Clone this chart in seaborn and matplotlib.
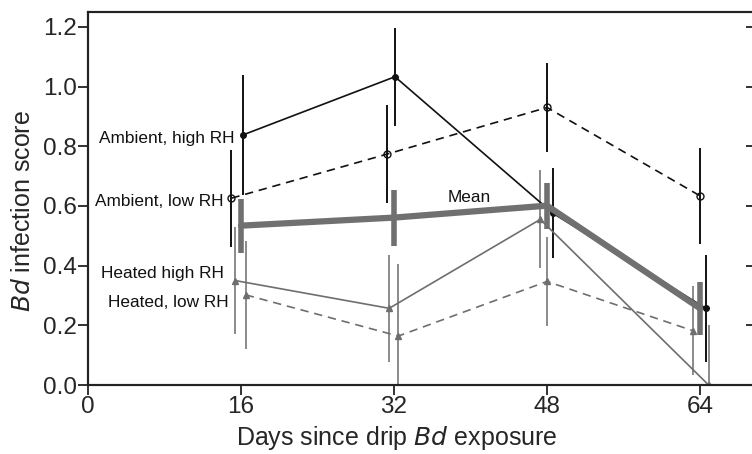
import numpy as np
import pandas as pd
import matplotlib
matplotlib.use("Agg")
import matplotlib.pyplot as plt
import seaborn as sns

# values (days are jittered around 16/32/48/64)
amb_high_day = [16.2, 32.1, 48.6, 64.6]
amb_high = [0.838, 1.033, 0.576, 0.257]
amb_high_err = [0.20, 0.165, 0.15, 0.18]

amb_low_day = [15.0, 31.3, 48.0, 64.0]
amb_low = [0.626, 0.774, 0.930, 0.634]
amb_low_err = [0.162, 0.164, 0.15, 0.16]

heat_high_day = [15.4, 31.5, 47.3, 64.9]
heat_high = [0.350, 0.257, 0.555, 0.0]
heat_high_err = [0.18, 0.18, 0.164, 0.20]

heat_low_day = [16.5, 32.45, 48.0, 63.25]
heat_low = [0.302, 0.164, 0.347, 0.182]
heat_low_err = [0.18, 0.24, 0.15, 0.15]

mean_day = [16, 32, 48, 64]
mean_val = [0.534, 0.561, 0.601, 0.257]
mean_err = [0.09, 0.094, 0.077, 0.088]

xticks = [0, 16, 32, 48, 64]
yticks = [0.0, 0.2, 0.4, 0.6, 0.8, 1.0, 1.2]

sns.set_theme(style="ticks")
plt.rcParams["font.family"] = ["Liberation Sans", "DejaVu Sans"]

fig = plt.figure(figsize=(7.52, 4.54), dpi=100)
ax = fig.add_axes([88 / 752, 69 / 454, 668 / 752, 373 / 454])

black = "#111111"
gray = "#6e6e6e"
lgray = "#8a8a8a"
mgray = "#707070"

series = [
    (amb_high_day, amb_high, amb_high_err, black, black, "-", "o", 4, black),
    (amb_low_day, amb_low, amb_low_err, black, black, (0, (5, 3.5)), "o", 5, "none"),
    (heat_high_day, heat_high, heat_high_err, gray, lgray, "-", "^", 5, gray),
    (heat_low_day, heat_low, heat_low_err, gray, lgray, (0, (5, 3.5)), "^", 5, gray),
]

for day, val, err, lc, ec, ls, mk, ms, fc in series:
    ax.errorbar(day, val, yerr=err, fmt="none", ecolor=ec, elinewidth=1.4,
                capsize=0, zorder=2, clip_on=True)
    df = pd.DataFrame({"day": day, "score": val})
    sns.lineplot(data=df, x="day", y="score", ax=ax, color=lc, linewidth=1.2,
                 linestyle=ls, marker=mk, markersize=ms, markerfacecolor=fc,
                 markeredgecolor=lc, markeredgewidth=1.0, zorder=3)

# mean line
ax.errorbar(mean_day, mean_val, yerr=mean_err, fmt="none", ecolor=mgray,
            elinewidth=4, capsize=0, zorder=4)
sns.lineplot(x=mean_day, y=mean_val, ax=ax, color=mgray, linewidth=4.5, zorder=4)

# series labels
lab_kw = dict(fontsize=12.4, ha="right", va="center", color="#111111")
ax.text(15.3, 0.825, "Ambient, high RH", **lab_kw)
ax.text(14.2, 0.615, "Ambient, low RH", **lab_kw)
ax.text(14.2, 0.372, "Heated high RH", **lab_kw)
ax.text(14.75, 0.277, "Heated, low RH", **lab_kw)
ax.text(39.9, 0.63, "Mean", fontsize=12.4, ha="center", va="center", color="#111111")

ax.set_xlim(0, 668 / 9.5625)
ax.set_ylim(0, 1.25)
ax.set_xticks(xticks)
ax.set_yticks(yticks)
ax.set_xticklabels([str(t) for t in xticks])
ax.set_yticklabels([f"{t:.1f}" for t in yticks])

for lab in ax.get_xticklabels() + ax.get_yticklabels():
    lab.set_fontsize(17.5)

ax.tick_params(axis="both", which="both", direction="out", length=7, width=1.3,
               color="#222222", pad=1)

# inward ticks on the right edge (spine falls just outside the picture)
ax2 = ax.twinx()
ax2.set_ylim(ax.get_ylim())
ax2.set_yticks(yticks[1:])
ax2.tick_params(axis="y", direction="in", length=7, width=1.3, color="#222222",
                labelright=False)

for a in (ax, ax2):
    for s in ["left", "bottom", "top", "right"]:
        a.spines[s].set_linewidth(1.5)
        a.spines[s].set_color("#222222")

ax.set_xlabel("Days since drip $\\it{Bd}$ exposure", fontsize=18)
ax.xaxis.set_label_coords((397 - 88) / 668, -0.105)
ax.set_ylabel("$\\it{Bd}$ infection score", fontsize=18)
ax.yaxis.set_label_coords(-0.08, 0.466)

fig.savefig("out.png", dpi=100)
